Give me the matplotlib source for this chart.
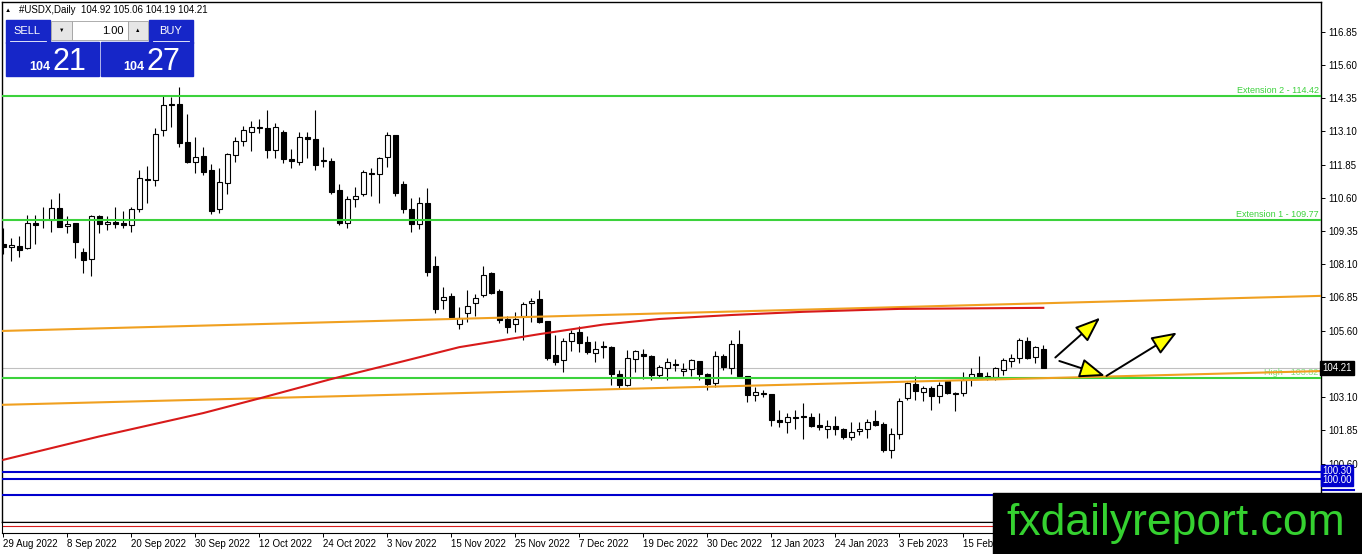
import numpy as np
import matplotlib
matplotlib.use("Agg")
import matplotlib.pyplot as plt
from matplotlib.patches import Rectangle

plt.rcParams['font.family'] = ['Liberation Sans', 'DejaVu Sans']

# daily candles, USDX, 29 Aug 2022 -> 27 Feb 2023
opens = [108.87, 108.74, 108.80, 108.70, 109.67, 109.77, 109.77, 110.22, 109.55, 109.65,
         108.55, 108.29, 109.90, 109.60, 109.68, 109.65, 109.56, 110.17, 111.32, 111.28,
         113.16, 114.14, 114.14, 112.69, 111.94, 112.18, 111.65, 110.17, 111.15, 112.20,
         112.72, 113.09, 113.24, 113.23, 112.40, 113.09, 112.05, 111.96, 112.89, 112.80,
         111.99, 111.99, 110.90, 109.67, 110.56, 110.73, 111.55, 111.49, 112.12, 112.97,
         111.12, 110.18, 109.60, 110.39, 108.03, 106.74, 106.91, 105.85, 106.25, 106.63,
         106.93, 107.76, 107.09, 106.04, 105.85, 106.17, 106.63, 106.78, 105.97, 104.69,
         104.48, 105.23, 105.56, 105.16, 104.76, 105.01, 104.98, 103.97, 103.56, 104.53,
         104.73, 104.66, 103.93, 104.19, 104.32, 104.08, 104.17, 104.47, 103.98, 103.63,
         104.66, 104.19, 105.11, 103.90, 103.17, 103.26, 103.22, 102.22, 102.17, 102.36,
         102.38, 102.35, 102.05, 101.90, 102.01, 101.90, 101.59, 101.82, 101.90, 102.20,
         102.08, 101.12, 101.70, 103.08, 103.58, 103.28, 103.46, 103.14, 103.71, 103.24,
         103.24, 103.83, 104.02, 103.87, 103.87, 104.12, 104.47, 104.56, 105.21, 104.60,
         104.92]
highs = [109.46, 109.08, 109.17, 109.96, 109.96, 110.27, 110.55, 110.77, 109.90, 109.65,
         108.70, 109.96, 109.96, 109.90, 110.27, 110.12, 110.27, 111.65, 111.80, 113.22,
         114.48, 114.41, 114.76, 113.76, 112.88, 112.50, 111.87, 111.71, 112.28, 112.88,
         113.32, 113.49, 113.56, 113.91, 113.43, 113.15, 112.43, 113.08, 113.08, 113.91,
         112.50, 112.09, 111.11, 110.67, 111.00, 111.65, 111.71, 112.15, 113.09, 112.97,
         111.23, 110.58, 110.62, 110.96, 108.41, 107.26, 107.03, 106.48, 107.13, 106.98,
         108.03, 107.79, 107.16, 106.17, 106.32, 106.69, 106.82, 107.13, 105.97, 105.45,
         105.32, 105.63, 105.79, 105.41, 105.20, 105.20, 105.03, 104.13, 104.88, 104.88,
         104.91, 104.69, 104.32, 104.57, 104.53, 104.38, 104.53, 104.47, 104.00, 104.84,
         104.72, 105.26, 105.63, 103.90, 103.48, 103.38, 103.22, 102.62, 102.52, 102.62,
         102.87, 102.50, 102.52, 102.25, 102.38, 101.93, 102.15, 102.15, 102.28, 102.60,
         102.15, 101.93, 103.06, 103.68, 103.91, 103.52, 103.52, 103.68, 103.75, 103.31,
         104.06, 104.19, 104.65, 104.06, 104.22, 104.56, 104.72, 105.31, 105.35, 105.02,
         105.06]
lows = [108.49, 108.24, 108.37, 108.67, 108.87, 109.48, 109.33, 109.49, 109.29, 108.33,
        107.76, 107.64, 109.27, 109.39, 109.46, 109.48, 109.33, 110.08, 110.42, 111.03,
        112.91, 113.28, 112.52, 111.90, 111.55, 111.45, 109.99, 110.04, 110.73, 111.93,
        112.56, 112.36, 113.03, 112.11, 112.11, 111.90, 111.74, 111.85, 112.11, 111.65,
        111.75, 110.73, 109.58, 109.48, 110.24, 110.67, 110.67, 110.39, 111.77, 110.67,
        110.02, 109.33, 109.41, 107.66, 106.25, 106.43, 106.13, 105.68, 105.94, 106.15,
        106.86, 106.98, 105.88, 105.50, 105.56, 105.25, 105.94, 105.88, 104.51, 104.32,
        104.03, 104.82, 104.78, 104.73, 104.41, 104.59, 103.56, 103.44, 103.50, 104.03,
        103.78, 103.75, 103.85, 103.75, 104.07, 103.88, 103.88, 103.75, 103.35, 103.48,
        104.13, 103.97, 103.85, 102.90, 102.97, 103.10, 102.02, 101.97, 101.74, 101.90,
        101.52, 101.99, 101.87, 101.56, 101.68, 101.54, 101.47, 101.68, 101.56, 102.02,
        101.05, 100.80, 101.51, 102.99, 102.99, 102.97, 102.62, 102.87, 103.21, 102.58,
        103.14, 103.52, 103.85, 103.75, 103.75, 103.93, 104.25, 104.37, 104.55, 104.37,
        104.19]
closes = [108.74, 108.83, 108.62, 109.65, 109.57, 109.76, 110.22, 109.52, 109.62, 108.92,
          108.27, 109.90, 109.61, 109.68, 109.60, 109.56, 110.17, 111.34, 111.28, 112.99,
          114.10, 114.09, 112.67, 111.94, 112.13, 111.59, 110.12, 111.18, 112.25, 112.74,
          113.14, 113.25, 113.24, 112.40, 113.25, 112.05, 112.00, 112.88, 112.80, 111.85,
          111.99, 110.83, 109.64, 110.56, 110.67, 111.56, 111.49, 112.09, 112.97, 110.77,
          110.17, 109.60, 110.39, 107.82, 106.40, 106.86, 106.13, 106.07, 106.54, 106.82,
          107.70, 107.01, 106.00, 105.73, 106.03, 106.60, 106.72, 105.92, 104.57, 104.41,
          105.22, 105.53, 105.13, 104.78, 104.91, 105.00, 103.98, 103.56, 104.57, 104.82,
          104.63, 103.92, 104.23, 104.41, 104.31, 104.17, 104.51, 103.97, 103.60, 104.66,
          104.22, 105.09, 103.88, 103.19, 103.30, 103.22, 102.22, 102.15, 102.35, 102.31,
          102.35, 102.03, 101.96, 102.02, 101.90, 101.59, 101.78, 101.91, 102.18, 102.06,
          101.12, 101.71, 102.96, 103.62, 103.33, 103.43, 103.16, 103.56, 103.24, 103.23,
          103.75, 103.96, 103.87, 103.86, 104.19, 104.50, 104.56, 105.25, 104.59, 104.98,
          104.21]

# moving average (red), sampled at bar numbers
ma_bar = [0, 12, 25, 32, 41, 50, 57, 67, 75, 82, 91, 100, 112, 130]
ma_val = [100.74, 101.62, 102.50, 103.05, 103.78, 104.45, 104.98, 105.47, 105.83,
          106.04, 106.19, 106.31, 106.42, 106.46]

# orange trend lines (start / end of the visible area)
trend_bar = [-0.16, 164.7]
trend_upper = [105.59, 106.91]
trend_lower = [102.81, 104.08]

# horizontal levels
green_levels = [114.42, 109.77, 103.82]
green_labels = ['Extension 2 - 114.42', 'Extension 1 - 109.77', 'High - 103.82']
blue_levels = [100.30, 100.00, 99.40]
last_price = 104.21

# arrows (bar, price) start -> end
arrows = [((131.5, 104.59), (137.1, 106.09)),
          ((132.0, 104.46), (137.7, 103.90)),
          ((137.9, 103.90), (146.7, 105.53))]

ytick_vals = [116.85, 115.60, 114.35, 113.10, 111.85, 110.60, 109.35, 108.10,
              106.85, 105.60, 104.35, 103.10, 101.85, 100.60]
xtick_bars = [0, 8, 16, 24, 32, 40, 48, 56, 64, 72, 80, 88, 96, 104, 112, 120]
xtick_labels = ['29 Aug 2022', '8 Sep 2022', '20 Sep 2022', '30 Sep 2022', '12 Oct 2022',
                '24 Oct 2022', '3 Nov 2022', '15 Nov 2022', '25 Nov 2022', '7 Dec 2022',
                '19 Dec 2022', '30 Dec 2022', '12 Jan 2023', '24 Jan 2023', '3 Feb 2023',
                '15 Feb 2023']

W, H = 1362, 554
GREEN = '#3cd23c'
ORANGE = '#f0a020'
BLUE = '#0000cd'
BTN = '#1626c8'


def draw_candles(ax):
    o = np.array(opens)
    c = np.array(closes)
    x = np.arange(len(o))
    up = c >= o
    ax.vlines(x, lows, highs, color='black', lw=0.8, zorder=3)
    bottoms = np.minimum(o, c)
    heights = np.maximum(np.abs(c - o), 0.02)
    ax.bar(x, heights, 0.6, bottom=bottoms, color=np.where(up, 'white', 'black'),
           edgecolor='black', linewidth=0.8, zorder=4)


def draw_levels(ax):
    ax.axhline(last_price, color='#c0c0c0', lw=0.8, zorder=2)
    for lvl, lab in zip(green_levels, green_labels):
        ax.axhline(lvl, color=GREEN, lw=1.5, zorder=5)
        col = '#7fe07f' if lab.startswith('High') else GREEN
        ax.text(164.4, lvl + 0.04, lab, color=col, fontsize=6.5, ha='right',
                va='bottom', zorder=4)
    for lvl in blue_levels:
        ax.axhline(lvl, color=BLUE, lw=1.5, zorder=5)
    ax.plot(trend_bar, trend_upper, color=ORANGE, lw=1.5, zorder=6)
    ax.plot(trend_bar, trend_lower, color=ORANGE, lw=1.5, zorder=6)
    ax.plot(ma_bar, ma_val, color='#d81a1a', lw=1.5, zorder=6)
    for start, end in arrows:
        ax.annotate('', xy=end, xytext=start,
                    arrowprops=dict(arrowstyle='-|>,head_length=1.3,head_width=0.5',
                                    fc='#ffff00', ec='black', lw=1.4,
                                    mutation_scale=12, shrinkA=0, shrinkB=0),
                    zorder=7)


def draw_panel(ov):
    ov.text(8, 10, '\u25b2', fontsize=4.5, ha='center', va='center')
    ov.text(19, 10, '#USDX,Daily  104.92 105.06 104.19 104.21', fontsize=7, va='center')
    for rect in [(6, 20, 44, 23), (6, 42, 93, 34), (149, 20, 44, 23), (101, 42, 92, 34)]:
        ov.add_patch(Rectangle(rect[:2], rect[2], rect[3], color=BTN, zorder=1))
    ov.add_patch(Rectangle((51, 21), 21, 19, fc='#e6e6e6', ec='#a0a0a0', lw=0.6))
    ov.add_patch(Rectangle((72, 21), 56, 19, fc='white', ec='#a0a0a0', lw=0.6))
    ov.add_patch(Rectangle((128, 21), 20, 19, fc='#e6e6e6', ec='#a0a0a0', lw=0.6))
    ov.text(62, 30.5, '\u25bc', fontsize=4, ha='center', va='center')
    ov.text(138, 30.5, '\u25b2', fontsize=4, ha='center', va='center')
    ov.text(124, 30.5, '1.00', fontsize=8, ha='right', va='center')
    ov.plot([10, 46], [41, 41], color='white', lw=0.6, zorder=2)
    ov.plot([153, 189], [41, 41], color='white', lw=0.6, zorder=2)
    ov.text(27, 31, 'SELL', color='white', fontsize=8, ha='center', va='center')
    ov.text(171, 31, 'BUY', color='white', fontsize=8, ha='center', va='center')
    ov.text(29, 70, '104', color='white', fontsize=9, fontweight='bold', va='baseline')
    ov.text(52, 70, '21', color='white', fontsize=22, va='baseline')
    ov.text(123, 70, '104', color='white', fontsize=9, fontweight='bold', va='baseline')
    ov.text(146, 70, '27', color='white', fontsize=22, va='baseline')

    # watermark
    ov.add_patch(Rectangle((993, 493), W - 993, H - 493, color='black', zorder=5))
    ov.text(1176, 523, 'fxdailyreport.com', color='#35d130', fontsize=32,
            ha='center', va='center', zorder=6)
    ov.plot([1323, 1354], [490, 490], color=BLUE, lw=1.5)


def main():
    fig = plt.figure(figsize=(W / 100, H / 100), dpi=100)
    fig.patch.set_facecolor('white')

    ax = fig.add_axes([2 / W, (H - 522) / H, 1319 / W, 520 / H])
    ax.set_xlim(-0.16, 164.71)
    ax.set_ylim(98.40, 117.97)
    draw_candles(ax)
    draw_levels(ax)

    ax.yaxis.tick_right()
    ax.set_yticks(ytick_vals)
    # 104.35 sits under the last-price box on the scale
    ax.set_yticklabels(['' if v == 104.35 else '%.2f' % v for v in ytick_vals])
    ax.tick_params(axis='y', length=3, width=0.7, labelsize=7, pad=2)
    ax.set_xticks([])
    for sp in ax.spines.values():
        sp.set_linewidth(1)

    # price labels on the scale
    ax.text(1.001, last_price, '104.21', transform=ax.get_yaxis_transform(),
            color='white', fontsize=7, va='center', ha='left', zorder=10,
            bbox=dict(boxstyle='square,pad=0.2', fc='black', ec='black'), clip_on=False)
    ax.text(1.001, 100.15, '100.30\n100.00', transform=ax.get_yaxis_transform(),
            color='white', fontsize=7, va='center', ha='left', linespacing=0.85, zorder=10,
            bbox=dict(boxstyle='square,pad=0.15', fc=BLUE, ec=BLUE), clip_on=False)

    # small sub window below the price chart
    ax2 = fig.add_axes([2 / W, (H - 533) / H, 1319 / W, 11 / H])
    ax2.set_xlim(-0.16, 164.71)
    ax2.set_ylim(0, 1)
    ax2.axhline(0.64, color='#d81a1a', lw=0.8)
    ax2.set_yticks([])
    ax2.set_xticks(xtick_bars)
    ax2.set_xticklabels(xtick_labels, ha='left')
    ax2.tick_params(axis='x', length=3, width=0.7, labelsize=7, pad=1.5)

    ov = fig.add_axes([0, 0, 1, 1], zorder=10)
    ov.set_xlim(0, W)
    ov.set_ylim(H, 0)
    ov.axis('off')
    ov.patch.set_alpha(0)
    draw_panel(ov)

    fig.savefig('out.png', dpi=100)


if __name__ == "__main__":
    main()
